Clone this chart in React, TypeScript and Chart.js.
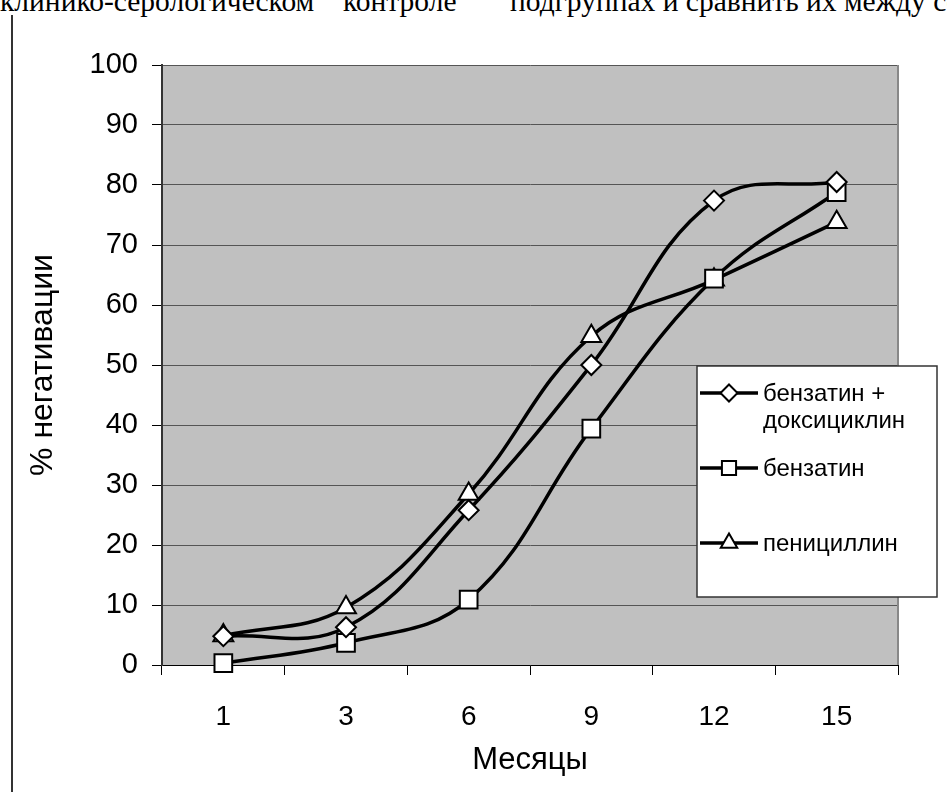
import React, { useEffect, useRef } from 'react';
import { Chart, registerables } from 'chart.js';

Chart.register(...registerables);

const months = ['1', '3', '6', '9', '12', '15'];
const benzDoxy = [4.8, 6.3, 25.8, 50, 77.4, 80.5];
const benz = [0.3, 3.7, 10.9, 39.4, 64.4, 78.8];
const penic = [4.9, 9.6, 28.5, 54.8, 64.2, 73.8];
const seriesNames = ['бензатин +\nдоксициклин', 'бензатин', 'пенициллин'];
const seriesStyles = ['rectRot', 'rect', 'triangle'];
const seriesRadius = [10, 12.5, 11.5];
const yTitle = '% негативации';
const xTitle = 'Месяцы';
const headerParts = ['клинико-серологическом', 'контроле', 'подгруппах и сравнить их между собой'];
const headerLefts = [0, 343, 510];

const FONT = '"Liberation Sans", Arial, sans-serif';

function drawMarker(ctx: CanvasRenderingContext2D, style: string, x: number, y: number, r: number) {
  ctx.beginPath();
  if (style === 'rectRot') {
    ctx.moveTo(x, y - r);
    ctx.lineTo(x + r, y);
    ctx.lineTo(x, y + r);
    ctx.lineTo(x - r, y);
    ctx.closePath();
  } else if (style === 'rect') {
    const s = r * Math.SQRT1_2;
    ctx.rect(x - s, y - s, 2 * s, 2 * s);
  } else {
    const a = (2 * Math.PI) / 3;
    ctx.moveTo(x, y - r);
    ctx.lineTo(x + Math.sin(a) * r, y - Math.cos(a) * r);
    ctx.lineTo(x + Math.sin(2 * a) * r, y - Math.cos(2 * a) * r);
    ctx.closePath();
  }
  ctx.fillStyle = '#fff';
  ctx.fill();
  ctx.lineWidth = 2;
  ctx.strokeStyle = '#000';
  ctx.stroke();
}

const bgPlugin = {
  id: 'plotBg',
  beforeDraw(chart: any) {
    const { ctx, chartArea: a } = chart;
    ctx.save();
    ctx.fillStyle = '#c0c0c0';
    ctx.fillRect(a.left, a.top, a.right - a.left, a.bottom - a.top);
    ctx.restore();
  },
  beforeDatasetsDraw(chart: any) {
    const { ctx, chartArea: a } = chart;
    ctx.save();
    ctx.strokeStyle = '#888';
    ctx.lineWidth = 2;
    ctx.beginPath();
    ctx.moveTo(a.right, a.top);
    ctx.lineTo(a.right, a.bottom);
    ctx.stroke();
    ctx.restore();
  },
};

const legendPlugin = {
  id: 'boxLegend',
  afterDraw(chart: any) {
    const { ctx, chartArea: a } = chart;
    const bx = a.right - 201;
    const by = a.top + 301;
    const bw = 240;
    const bh = 231;
    ctx.save();
    ctx.fillStyle = '#fff';
    ctx.fillRect(bx, by, bw, bh);
    ctx.strokeStyle = '#333';
    ctx.lineWidth = 1.5;
    ctx.strokeRect(bx, by, bw, bh);
    const rowY = [by + 27, by + 102, by + 177];
    ctx.font = `24px ${FONT}`;
    ctx.textBaseline = 'middle';
    ctx.textAlign = 'left';
    seriesNames.forEach((name, i) => {
      const y = rowY[i];
      ctx.strokeStyle = '#000';
      ctx.lineWidth = 3.5;
      ctx.beginPath();
      ctx.moveTo(bx + 3, y);
      ctx.lineTo(bx + 61, y);
      ctx.stroke();
      drawMarker(ctx, seriesStyles[i], bx + 32, y, [8.5, 10, 9.5][i]);
      ctx.fillStyle = '#000';
      name.split('\n').forEach((line, j) => {
        ctx.fillText(line, bx + 66, y + 1 + j * 27);
      });
    });
    ctx.restore();
  },
};

export default function App() {
  const ref = useRef<HTMLCanvasElement | null>(null);

  useEffect(() => {
    if (!ref.current) return;
    const series = [benzDoxy, benz, penic];
    const chart = new Chart(ref.current, {
      type: 'line',
      data: {
        labels: months,
        datasets: series.map((d, i) => ({
          label: seriesNames[i],
          data: d,
          borderColor: '#000',
          borderWidth: 3.5,
          tension: 0.4,
          pointStyle: seriesStyles[i] as any,
          pointRadius: seriesRadius[i],
          pointBackgroundColor: '#fff',
          pointBorderColor: '#000',
          pointBorderWidth: 2,
          clip: false as any,
        })),
      },
      options: {
        animation: false,
        responsive: false,
        devicePixelRatio: 1,
        layout: { padding: { left: 0, right: 49, top: 65, bottom: 0 } },
        plugins: { legend: { display: false }, tooltip: { enabled: false } },
        scales: {
          x: {
            type: 'category',
            offset: true,
            grid: {
              offset: true,
              drawOnChartArea: false,
              drawTicks: true,
              tickLength: 10,
              color: '#000',
              lineWidth: 1,
            },
            border: { color: '#000', width: 1 },
            ticks: { font: { family: FONT, size: 28 }, color: '#000', padding: 25, maxRotation: 0 },
            title: {
              display: true,
              text: xTitle,
              font: { family: FONT, size: 31 },
              color: '#000',
              padding: { top: 0, bottom: 13 },
            },
            afterFit: (s: any) => {
              s.height = 127;
            },
          },
          y: {
            min: 0,
            max: 100,
            ticks: { stepSize: 10, font: { family: FONT, size: 29 }, color: '#000', padding: 14 },
            grid: { color: '#555', lineWidth: 1, tickColor: '#000', tickLength: 10 },
            border: { color: '#333', width: 2 },
            title: {
              display: true,
              text: yTitle,
              font: { family: FONT, size: 32 },
              color: '#000',
              padding: { top: 24, bottom: 0 },
            },
            afterFit: (s: any) => {
              s.width = 162;
            },
          },
        },
      },
      plugins: [bgPlugin, legendPlugin],
    });
    return () => chart.destroy();
  }, []);

  return (
    <div style={{ position: 'absolute', left: 0, top: 0, width: 947, height: 792, overflow: 'hidden', background: '#fff' }}>
      {headerParts.map((t, i) => (
        <span
          key={i}
          style={{
            position: 'absolute',
            left: headerLefts[i],
            top: -14,
            fontFamily: '"Liberation Serif", "Times New Roman", serif',
            fontSize: 29.5,
            lineHeight: '30px',
            whiteSpace: 'nowrap',
            color: '#000',
          }}
        >
          {t}
        </span>
      ))}
      <div style={{ position: 'absolute', left: 11, top: 15, width: 2, height: 777, background: '#333' }} />
      <canvas ref={ref} width={947} height={792} style={{ position: 'absolute', left: 0, top: 0 }} />
    </div>
  );
}
